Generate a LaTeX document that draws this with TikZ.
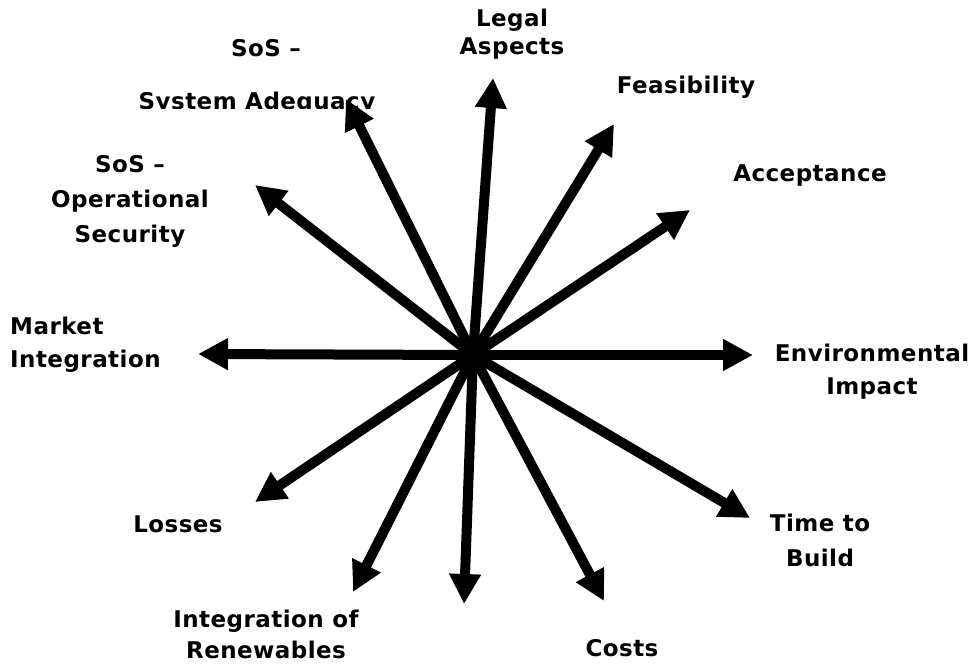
\documentclass[tikz,border=0pt]{standalone}
\usepackage{fontspec}
\setmainfont{DejaVu Sans}[LetterSpace=2]
\usetikzlibrary{arrows.meta}
\begin{document}
\begin{tikzpicture}[x=1pt,y=-1pt,
  arr/.style={line width=10pt,-{Triangle[length=30pt,width=30pt]}},
  lbl/.style={font=\bfseries\fontsize{23}{33}\selectfont,align=center,inner sep=0pt}]
\useasboundingbox (0,0) rectangle (977,664);
\coordinate (c) at (473,355);
\coordinate (tLegal) at (493,78);
\coordinate (tAdeq) at (346,99);
\coordinate (tFeas) at (614,124);
\coordinate (tAcc) at (690,210);
\coordinate (tEnv) at (753,355);
\coordinate (tTime) at (750,518);
\coordinate (tCost) at (604,601);
\coordinate (tDown) at (464,604);
\coordinate (tRen) at (353,592);
\coordinate (tLoss) at (255,502);
\coordinate (tMkt) at (198,354);
\coordinate (tOp) at (255,185);
\foreach \t in {tLegal,tAdeq,tFeas,tAcc,tEnv,tTime,tCost,tDown,tRen,tLoss,tMkt,tOp}
  \draw[arr] (c) -- (\t);
\node[lbl] (legal) at (512,34) {Legal\\[-5pt]Aspects};
\node[lbl] (sos1) at (266,48) {SoS –};
\begin{scope}
\clip (100,80) rectangle (420,108);
\node[lbl] (adeq) at (257,103) {System Adequacy};
\end{scope}
\node[lbl] (feas) at (686,87) {Feasibility};
\node[lbl] (acc) at (810,176) {Acceptance};
\node[lbl] (op) at (130,201) {SoS –\\[2pt]Operational\\[2pt]Security};
\node[lbl,align=left,anchor=west] (mkt) at (10,345) {Market\\Integration};
\node[lbl] (env) at (872,372) {Environmental\\Impact};
\node[lbl] (time) at (820,540) {Time to\\[2pt]Build};
\node[lbl] (loss) at (178,524) {Losses};
\node[lbl] (ren) at (266,634) {Integration of\\[-2pt]Renewables};
\node[lbl] (cost) at (622,648) {Costs};
\end{tikzpicture}
\end{document}
